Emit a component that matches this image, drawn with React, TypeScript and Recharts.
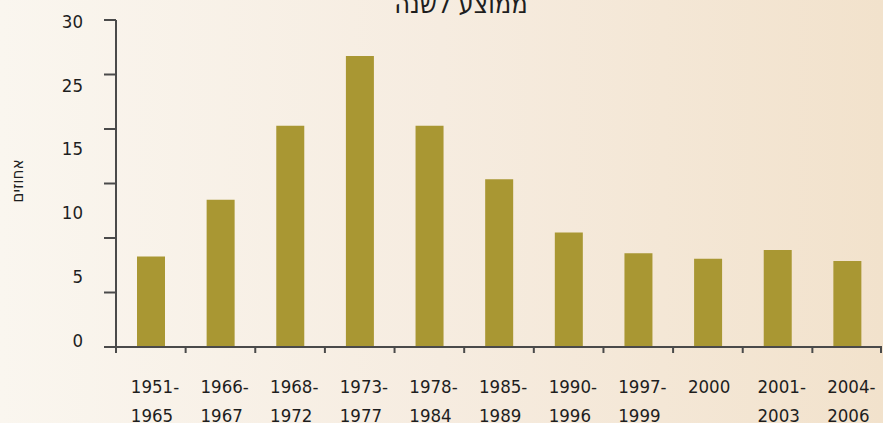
import React from "react";
import { BarChart, Bar, XAxis, YAxis } from "recharts";

const categories = [
  "1951-1965",
  "1966-1967",
  "1968-1972",
  "1973-1977",
  "1978-1984",
  "1985-1989",
  "1990-1996",
  "1997-1999",
  "2000",
  "2001-2003",
  "2004-2006",
];
const values = [8.3, 13.5, 20.3, 26.7, 20.3, 15.4, 10.5, 8.6, 8.1, 8.9, 7.9];
const yTicks = [0, 5, 10, 15, 20, 25, 30];
const yLabels = ["0", "5", "10", "15", "25", "30"];
const title = "ממוצע לשנה";
const yTitle = "אחוזים";

const data = categories.map((c, i) => ({ period: c, value: values[i] }));
const labelIdx = yLabels.map((_, i) => i);

const FONT = "'DejaVu Sans Condensed', 'DejaVu Sans', sans-serif";
const AXIS = "#4a4a4a";
const TEXT = "#1e1e1e";

const XTick = (props: any) => {
  const { x, y, payload, index, visibleTicksCount, width } = props;
  const half =
    payload && typeof payload.offset === "number" && payload.offset > 0
      ? payload.offset
      : (width || 766) / (visibleTicksCount || categories.length) / 2;
  const s: string = String(payload.value);
  const parts = s.includes("-") ? [s.slice(0, s.indexOf("-") + 1), s.slice(s.indexOf("-") + 1)] : [s];
  const isLast = index === (visibleTicksCount || categories.length) - 1;
  return (
    <g>
      <line x1={x - half} x2={x - half} y1={y} y2={y + 6} stroke={AXIS} strokeWidth={2} />
      {isLast && <line x1={x + half - 1} x2={x + half - 1} y1={y} y2={y + 6} stroke={AXIS} strokeWidth={2} />}
      {parts.map((p, i) => (
        <text
          key={i}
          x={x - 20}
          y={y + 46 + i * 29}
          textAnchor="start"
          fontSize={18.5}
          fontFamily={FONT}
          fontStretch="condensed"
          fill={TEXT}
        >
          {p}
        </text>
      ))}
    </g>
  );
};

export default function App() {
  return (
    <div
      style={{
        position: "absolute",
        left: 0,
        top: 0,
        width: 883,
        height: 423,
        overflow: "hidden",
        background: "linear-gradient(to right, #faf6ef 0%, #f6ece0 50%, #f2e2cc 100%)",
      }}
    >
      <BarChart
        width={883}
        height={423}
        data={data}
        margin={{ top: 20, right: 1, bottom: 0, left: 0 }}
      >
        <XAxis
          dataKey="period"
          type="category"
          height={76}
          axisLine={{ stroke: AXIS, strokeWidth: 2 }}
          tickLine={false}
          tickSize={0}
          tickMargin={0}
          interval={0}
          tick={<XTick />}
        />
        <YAxis
          yAxisId="main"
          type="number"
          domain={[0, 30]}
          allowDataOverflow
          ticks={yTicks}
          width={116}
          tickSize={12}
          tickFormatter={() => ""}
          axisLine={{ stroke: AXIS, strokeWidth: 2 }}
          tickLine={{ stroke: AXIS, strokeWidth: 2 }}
        />
        <YAxis
          yAxisId="labels"
          type="number"
          mirror
          domain={[-0.11, 5.02]}
          allowDataOverflow
          ticks={labelIdx}
          interval={0}
          tickSize={0}
          tickMargin={-33}
          axisLine={false}
          tickLine={false}
          tickFormatter={(v: number) => yLabels[v] ?? ""}
          tick={{ textAnchor: "end", fontSize: 18.5, fontFamily: FONT, fill: TEXT, fontStretch: "condensed" } as any}
        />
        <Bar
          dataKey="value"
          yAxisId="main"
          fill="#a99733"
          barSize={28}
          isAnimationActive={false}
        />
      </BarChart>
      <svg
        width={883}
        height={423}
        style={{ position: "absolute", left: 0, top: 0, pointerEvents: "none" }}
      >
        <text x={461} y={13} textAnchor="middle" fontSize={27} fontFamily={FONT} fill={TEXT}>
          {title}
        </text>
        <text
          x={17}
          y={181}
          transform="rotate(-90, 17, 181)"
          textAnchor="middle"
          dominantBaseline="central"
          fontSize={17}
          fontFamily={FONT}
          fill={TEXT}
        >
          {yTitle}
        </text>
      </svg>
    </div>
  );
}
